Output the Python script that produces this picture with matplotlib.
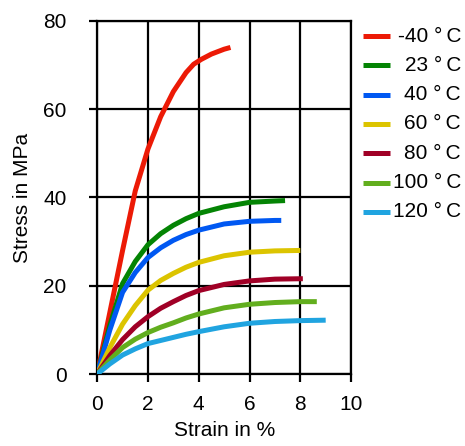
import matplotlib
matplotlib.use("Agg")
import matplotlib.pyplot as plt
from matplotlib.lines import Line2D

plt.rcParams["font.family"] = ["Liberation Sans", "DejaVu Sans"]

# stress-strain curves (strain in %, stress in MPa)
labels = ["-40 °\u2009C", "23 °\u2009C", "40 °\u2009C", "60 °\u2009C",
          "80 °\u2009C", "100 °\u2009C", "120 °\u2009C"]
colors = ["#ec1a06", "#048404", "#0058f2", "#dcc400", "#a00026", "#62ae1e", "#20a4e0"]

strain_m40 = [0, 0.5, 1, 1.5, 2, 2.5, 3, 3.5, 3.8, 4.1, 4.5, 5, 5.25]
stress_m40 = [0, 14, 28, 41.5, 51, 58.3, 64, 68.3, 70.2, 71.3, 72.5, 73.6, 74]

strain_23 = [0, 0.5, 1, 1.5, 2, 2.5, 3, 3.5, 4, 5, 6, 7, 7.4]
stress_23 = [0, 11, 20.5, 25.5, 29.3, 31.8, 33.7, 35.2, 36.4, 37.9, 38.9, 39.2, 39.3]

strain_40 = [0, 0.5, 1, 1.5, 2, 2.5, 3, 3.5, 4, 5, 6, 7, 7.25]
stress_40 = [0, 10, 18.5, 23, 26.4, 28.6, 30.3, 31.6, 32.6, 34.0, 34.6, 34.8, 34.8]

strain_60 = [0, 0.5, 1, 1.5, 2, 2.5, 3, 3.5, 4, 5, 6, 7, 8]
stress_60 = [0, 6, 11.3, 15.5, 19, 21.2, 22.8, 24.2, 25.3, 26.8, 27.6, 27.9, 28.0]

strain_80 = [0, 0.5, 1, 1.5, 2, 2.5, 3, 3.5, 4, 5, 6, 7, 8.1]
stress_80 = [0, 4.2, 7.8, 10.7, 13, 14.9, 16.4, 17.8, 18.9, 20.3, 21.1, 21.5, 21.6]

strain_100 = [0, 0.5, 1, 1.5, 2, 2.5, 3, 3.5, 4, 5, 6, 7, 8, 8.65]
stress_100 = [0, 3.2, 6, 7.9, 9.4, 10.6, 11.6, 12.7, 13.6, 15.0, 15.8, 16.2, 16.4, 16.4]

strain_120 = [0, 0.5, 1, 1.5, 2, 2.5, 3, 3.5, 4, 5, 6, 7, 8, 9]
stress_120 = [0, 2.3, 4.3, 5.7, 6.9, 7.6, 8.3, 9.0, 9.6, 10.7, 11.5, 11.9, 12.1, 12.2]

strains = [strain_m40, strain_23, strain_40, strain_60, strain_80, strain_100, strain_120]
stresses = [stress_m40, stress_23, stress_40, stress_60, stress_80, stress_100, stress_120]

fig = plt.figure(figsize=(4.65, 4.46), dpi=100)
ax = fig.add_axes([0.209, 0.1614, 0.546, 0.7916])

for xs, ys, c in zip(strains, stresses, colors):
    ax.plot(xs, ys, color=c, lw=3.6, solid_capstyle="butt", zorder=3)

ax.set_xlim(0, 10)
ax.set_ylim(0, 80)
ax.set_xticks([0, 2, 4, 6, 8, 10])
ax.set_yticks([0, 20, 40, 60, 80])
ax.grid(True, color="black", lw=1.6)
for s in ax.spines.values():
    s.set_linewidth(1.6)
ax.tick_params(axis="both", direction="out", length=6, width=1.6, labelsize=15)
ax.tick_params(axis="y", pad=16)
ax.tick_params(axis="x", pad=9)

ax.set_xlabel("Strain in %", fontsize=15, labelpad=5)
ax.set_ylabel("Stress in MPa", fontsize=15, labelpad=8)

# legend with right-aligned labels, drawn by hand in figure coords
W, H = 465, 446
for i, (c, lab) in enumerate(zip(colors, labels)):
    yc = 1 - (36 + i * 29.33) / H
    fig.add_artist(Line2D([363 / W, 390 / W], [yc, yc], color=c, lw=3.6,
                          solid_capstyle="butt", transform=fig.transFigure))
    fig.text(461 / W, yc, lab, ha="right", va="center", fontsize=15)

fig.savefig("out.png", dpi=100)
